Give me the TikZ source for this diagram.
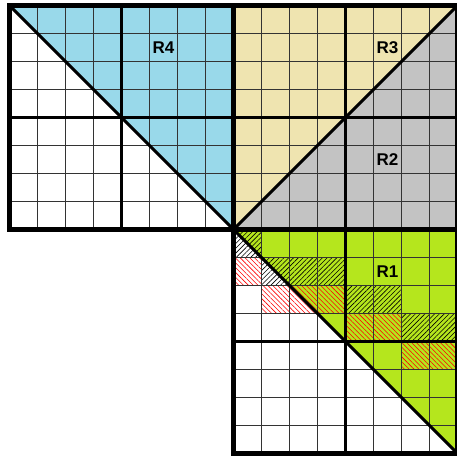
\documentclass[tikz,border=0pt]{standalone}
\usepackage{fontspec}
\setmainfont{Liberation Sans}
\usetikzlibrary{patterns.meta}
\definecolor{cblue}{HTML}{99D9EA}
\definecolor{ctan}{HTML}{EFE4B0}
\definecolor{cgray}{HTML}{C3C3C3}
\definecolor{cgreen}{HTML}{B5E61D}
\begin{document}
\begin{tikzpicture}[x=28pt,y=-28pt,
 thinline/.style={line width=1.1pt, draw=black!80},
 midline/.style={line width=3.5pt},
 outline/.style={line width=4.5pt},
 diag/.style={line width=3pt},
 blackhatch/.style={pattern={Lines[angle=45,distance=3.4pt,line width=0.6pt]}, pattern color=black},
 redhatch/.style={pattern={Lines[angle=-45,distance=3.4pt,line width=0.55pt]}, pattern color=red},
 lbl/.style={font=\fontsize{17}{17}\selectfont\bfseries, inner sep=0pt}]
\useasboundingbox (-9.5pt,5.5pt) rectangle (446.5pt,-454.5pt);
% region fills
\fill[cblue] (0,0) -- (8,0) -- (8,8) -- cycle;
\fill[ctan] (8,0) -- (16,0) -- (8,8) -- cycle;
\fill[cgray] (16,0) -- (16,8) -- (8,8) -- cycle;
\fill[cgreen] (8,8) -- (16,8) -- (16,16) -- cycle;
% hatched cells
\foreach \c/\r in {8/8, 9/9, 10/9, 11/9, 12/10, 13/10, 14/11, 15/11}
  \path[blackhatch] (\c,\r) rectangle ++(1,1);
\foreach \c/\r in {8/9, 9/10, 10/10, 11/10, 12/11, 13/11, 14/12, 15/12}
  \path[redhatch] (\c,\r) rectangle ++(1,1);
% thin grid
\foreach \i in {1,2,3,5,6,7} {
  \draw[thinline] (\i,0) -- (\i,8);
  \draw[thinline] (0,\i) -- (8,\i);
  \draw[thinline] (8+\i,0) -- (8+\i,8);
  \draw[thinline] (8,\i) -- (16,\i);
  \draw[thinline] (8+\i,8) -- (8+\i,16);
  \draw[thinline] (8,8+\i) -- (16,8+\i);
}
% half-block lines
\draw[midline] (4,0) -- (4,8) (0,4) -- (8,4)
  (12,0) -- (12,8) (8,4) -- (16,4)
  (12,8) -- (12,16) (8,12) -- (16,12);
% block outlines
\draw[outline] (0,0) rectangle (8,8) (8,0) rectangle (16,8) (8,8) rectangle (16,16);
% diagonals
\draw[diag] (0,0) -- (8,8) -- (16,0);
\draw[diag] (8,8) -- (16,16);
% labels
\node[lbl] (r4) at (5.5,1.5) {R4};
\node[lbl] (r3) at (13.5,1.5) {R3};
\node[lbl] (r2) at (13.5,5.5) {R2};
\node[lbl] (r1) at (13.5,9.5) {R1};
\end{tikzpicture}
\end{document}
